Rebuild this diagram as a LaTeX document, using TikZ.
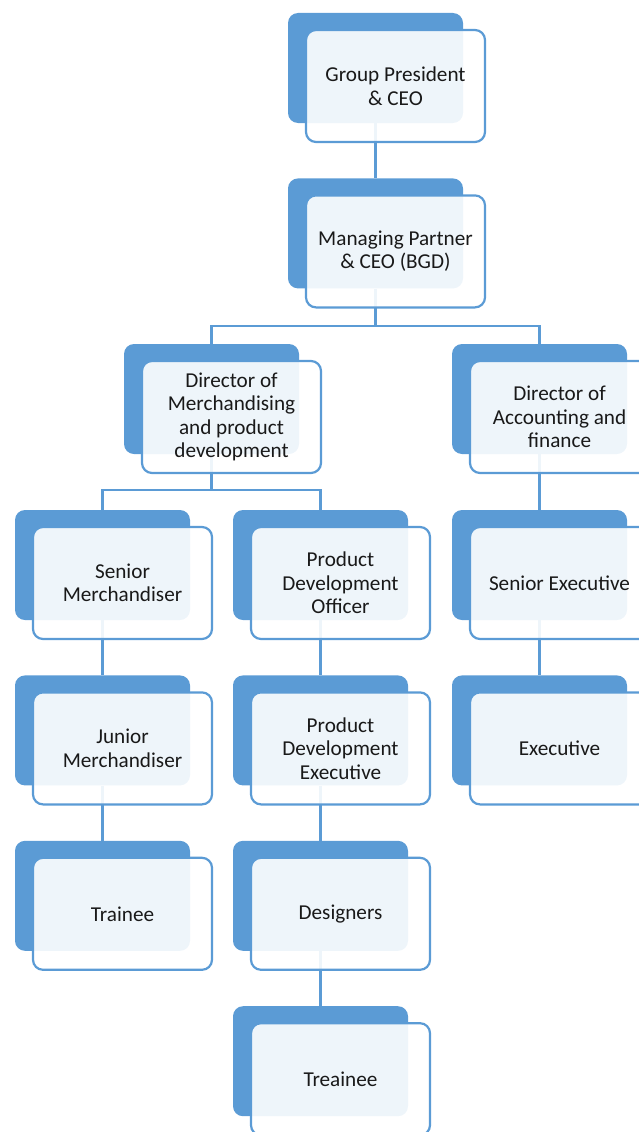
\documentclass[tikz,border=0pt]{standalone}
\usepackage{fontspec}
\setmainfont{Carlito}
\usepackage{tikz}
\usetikzlibrary{positioning}

\definecolor{accent}{HTML}{5B9BD5}
\tikzset{
  backbox/.style={rectangle, rounded corners=10pt, fill=accent,
    minimum width=175pt, minimum height=110pt, inner sep=0pt},
  frontbox/.style={rectangle, rounded corners=10pt, draw=accent, line width=2.2pt,
    fill=white, fill opacity=0.9, text opacity=1, text=black!90,
    minimum width=179pt, minimum height=112pt, inner sep=0pt, align=center,
    font=\fontsize{21.2}{23.5}\selectfont},
  link/.style={draw=accent, line width=2.2pt}
}

\begin{document}
\begin{tikzpicture}[x=1pt,y=1pt]
\useasboundingbox (0,0) rectangle (638,-1132);

% back boxes
\node[backbox] (gp) at (375.5,-68) {};
\node[backbox, below=55pt of gp] (mp) {};
\node[backbox] (dm) at (211.5,-399) {};
\node[backbox] (da) at (539.5,-399) {};
\node[backbox] (sm) at (102.5,-565) {};
\node[backbox] (pdo) at (320.5,-565) {};
\node[backbox] (se) at (539.5,-565) {};
\node[backbox, below=55pt of sm] (jm) {};
\node[backbox, below=55pt of pdo] (pde) {};
\node[backbox, below=55pt of se] (ex) {};
\node[backbox, below=55pt of jm] (tr) {};
\node[backbox, below=55pt of pde] (ds) {};
\node[backbox, below=55pt of ds] (tn) {};

% connectors
\draw[link] (gp) -- (mp);
\draw[link] (mp.south) -- ++(0,-37) coordinate (busA);
\draw[link] (busA) -| (dm.north);
\draw[link] (busA) -| (da.north);
\draw[link] (dm.south) -- ++(0,-36) coordinate (busB);
\draw[link] (busB) -| (sm.north);
\draw[link] (busB) -| (pdo.north);
\draw[link] (sm) -- (jm);
\draw[link] (jm) -- (tr);
\draw[link] (pdo) -- (pde);
\draw[link] (pde) -- (ds);
\draw[link] (ds) -- (tn);
\draw[link] (da) -- (se);
\draw[link] (se) -- (ex);

% front boxes
\node[frontbox] (gpF) at ([shift={(20pt,-18pt)}]gp.center) {Group President\\\& CEO};
\node[frontbox] (mpF) at ([shift={(20pt,-18pt)}]mp.center) {Managing Partner\\\& CEO (BGD)};
\node[frontbox] (dmF) at ([shift={(20pt,-18pt)}]dm.center) {Director of\\Merchandising\\and product\\development};
\node[frontbox] (daF) at ([shift={(20pt,-18pt)}]da.center) {Director of\\Accounting and\\finance};
\node[frontbox] (smF) at ([shift={(20pt,-18pt)}]sm.center) {Senior\\Merchandiser};
\node[frontbox] (pdoF) at ([shift={(20pt,-18pt)}]pdo.center) {Product\\Development\\Officer};
\node[frontbox] (seF) at ([shift={(20pt,-18pt)}]se.center) {Senior Executive};
\node[frontbox] (jmF) at ([shift={(20pt,-18pt)}]jm.center) {Junior\\Merchandiser};
\node[frontbox] (pdeF) at ([shift={(20pt,-18pt)}]pde.center) {Product\\Development\\Executive};
\node[frontbox] (exF) at ([shift={(20pt,-18pt)}]ex.center) {Executive};
\node[frontbox] (trF) at ([shift={(20pt,-18pt)}]tr.center) {Trainee};
\node[frontbox] (dsF) at ([shift={(20pt,-18pt)}]ds.center) {Designers};
\node[frontbox] (tnF) at ([shift={(20pt,-18pt)}]tn.center) {Treainee};

\end{tikzpicture}
\end{document}
